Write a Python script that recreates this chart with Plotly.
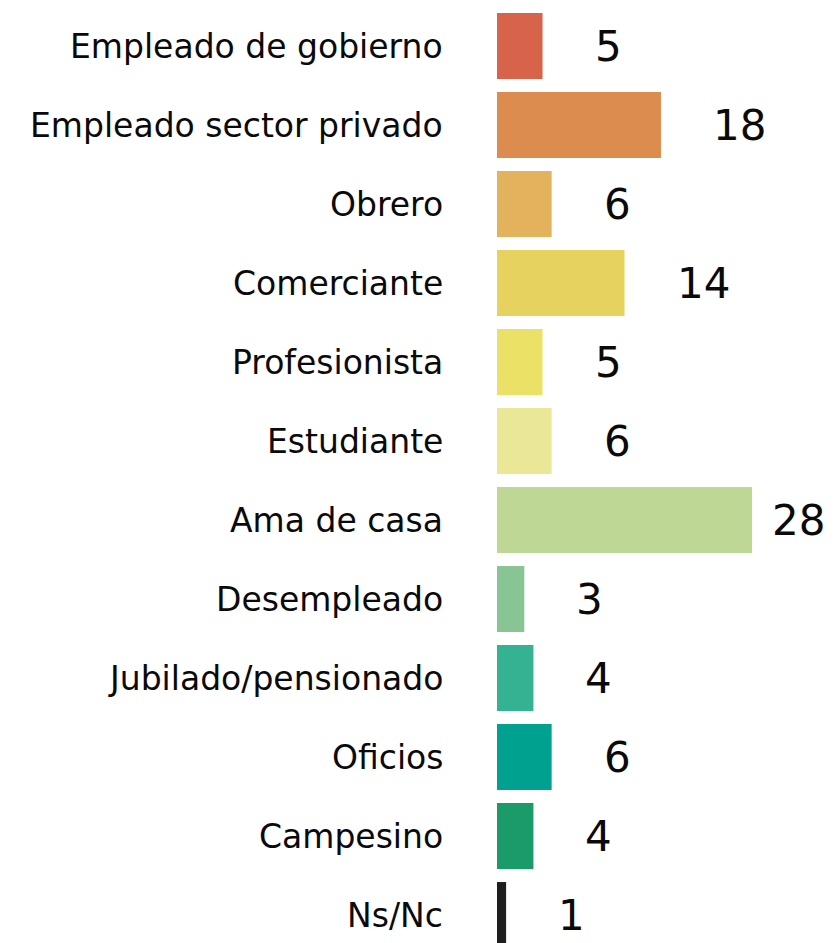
import plotly.graph_objects as go

categories = [
    "Empleado de gobierno", "Empleado sector privado", "Obrero", "Comerciante",
    "Profesionista", "Estudiante", "Ama de casa", "Desempleado",
    "Jubilado/pensionado", "Oficios", "Campesino", "Ns/Nc",
]
values = [5, 18, 6, 14, 5, 6, 28, 3, 4, 6, 4, 1]
colors = [
    "#D7634A", "#DC8C4F", "#E2B35C", "#E6D25E", "#EBE166", "#EAE796",
    "#BED794", "#88C494", "#34B291", "#00A18E", "#1C9B6A", "#1E1E1E",
]

FONT = "DejaVu Sans"

fig = go.Figure(
    go.Bar(
        x=values,
        y=categories,
        orientation="h",
        marker=dict(color=colors, line=dict(width=0)),
        width=0.835,
        hoverinfo="skip",
    )
)

annotations = []
vmax = max(values)
for cat, v in zip(categories, values):
    annotations.append(dict(
        x=0, y=cat, xref="x", yref="y", text=cat, showarrow=False,
        xanchor="right", yanchor="middle", xshift=-52,
        font=dict(family=FONT, size=33, color="#0a0a0a"),
    ))
    annotations.append(dict(
        x=v, y=cat, xref="x", yref="y", text=str(v), showarrow=False,
        xanchor="left", yanchor="middle", xshift=(18 if v == vmax else 50),
        font=dict(family=FONT, size=42, color="#0a0a0a"),
    ))

fig.update_layout(
    width=826, height=935,
    margin=dict(l=489, r=0, t=0, b=0),
    paper_bgcolor="white", plot_bgcolor="white",
    showlegend=False,
    annotations=annotations,
    xaxis=dict(range=[0, 37], visible=False, fixedrange=True),
    yaxis=dict(type="category", categoryorder="array", categoryarray=categories,
               range=[11.354, -0.481], visible=False, fixedrange=True),
)

fig.write_html("out.html")
